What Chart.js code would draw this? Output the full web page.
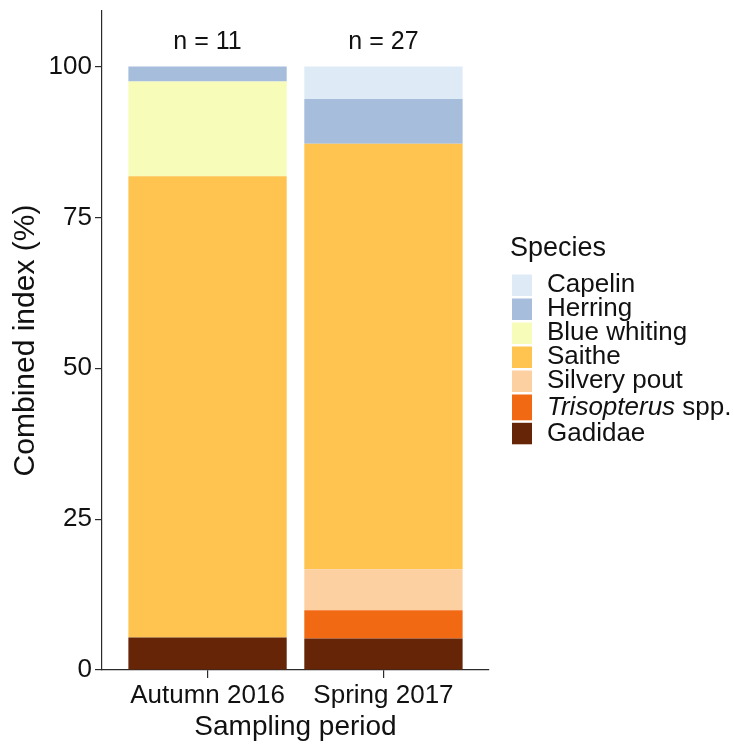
<!DOCTYPE html>
<html>
<head>
<meta charset="utf-8">
<script src="https://cdn.jsdelivr.net/npm/chart.js@4/dist/chart.umd.min.js"></script>
<style>
  html, body { margin: 0; padding: 0; background: #ffffff; }
  #wrap { width: 734px; height: 747px; }
  canvas { display: block; }
</style>
</head>
<body>
<div id="wrap"><canvas id="chart" width="734" height="747"></canvas></div>
<script>
// Sampling periods and number of samples per period
const periods = ['Autumn 2016', 'Spring 2017'];
const sampleSizes = [11, 27];

// Combined index (%) per species and period
const capelin     = [0.0, 5.4];
const herring     = [2.5, 7.4];
const blueWhiting = [15.7, 0.0];
const saithe      = [76.4, 70.5];
const silveryPout = [0.0, 6.8];
const trisopterus = [0.0, 4.7];
const gadidae     = [5.4, 5.2];

// Y axis tick values
const yTicks = [0, 25, 50, 75, 100];

// Legend order (top to bottom)
const speciesNames = ['Capelin', 'Herring', 'Blue whiting', 'Saithe', 'Silvery pout', 'Trisopterus spp.', 'Gadidae'];
const speciesValues = [capelin, herring, blueWhiting, saithe, silveryPout, trisopterus, gadidae];
const speciesColours = ['#deebf7', '#a6bddb', '#f7fcb9', '#fec44f', '#fdd0a2', '#f16913', '#662506'];

const FONT = '"Liberation Sans", Arial, Helvetica, sans-serif';
const INK = '#111111';
const AXIS = '#2b2b2b';

// Stack from the bottom: Gadidae first, Capelin last
const datasets = speciesNames.map((name, i) => ({
  label: name,
  data: speciesValues[i].map((v, j) => ({ x: j + 1, y: v })),
  backgroundColor: speciesColours[i],
  borderWidth: 0,
  barPercentage: 0.9,
  categoryPercentage: 1.0
})).reverse();

// "n = ..." above each bar
const sampleSizeLabels = {
  id: 'sampleSizeLabels',
  afterDatasetsDraw(chart) {
    const { ctx, scales: { x, y } } = chart;
    ctx.save();
    ctx.font = '25px ' + FONT;
    ctx.fillStyle = INK;
    ctx.textAlign = 'center';
    ctx.textBaseline = 'middle';
    sampleSizes.forEach((n, i) => {
      ctx.fillText('n = ' + n, x.getPixelForValue(i + 1), y.getPixelForValue(104));
    });
    ctx.restore();
  }
};

// Species legend with italic genus name
const speciesLegend = {
  id: 'speciesLegend',
  afterDraw(chart) {
    const { ctx } = chart;
    ctx.save();
    ctx.fillStyle = INK;
    ctx.textAlign = 'left';
    ctx.textBaseline = 'alphabetic';
    ctx.font = '27px ' + FONT;
    ctx.fillText('Species', 510, 256);

    const rowHeights = [24, 24, 24, 24, 24, 28.3, 24];
    let top = 273.5;
    speciesNames.forEach((name, i) => {
      const h = rowHeights[i];
      const keyH = h - 2.5;
      ctx.fillStyle = speciesColours[i];
      ctx.fillRect(512, top + 1, 20, keyH);
      const cy = top + 1 + keyH / 2;
      ctx.fillStyle = INK;
      ctx.textBaseline = 'middle';
      if (name === 'Trisopterus spp.') {
        ctx.font = 'italic 26px ' + FONT;
        ctx.fillText('Trisopterus', 547, cy);
        const w = ctx.measureText('Trisopterus').width;
        ctx.font = '26px ' + FONT;
        ctx.fillText(' spp.', 547 + w, cy);
      } else {
        ctx.font = '26px ' + FONT;
        ctx.fillText(name, 547, cy);
      }
      top += h;
    });
    ctx.restore();
  }
};

function noEdgePadding(scale) {
  scale.paddingTop = 0;
  scale.paddingBottom = 0;
  scale.paddingLeft = 0;
  scale.paddingRight = 0;
}

new Chart(document.getElementById('chart'), {
  type: 'bar',
  data: { datasets },
  plugins: [sampleSizeLabels, speciesLegend],
  options: {
    responsive: false,
    devicePixelRatio: 1,
    animation: false,
    layout: { padding: { left: 0, top: 11, right: 245, bottom: 0 } },
    plugins: {
      legend: { display: false },
      tooltip: { enabled: false }
    },
    scales: {
      x: {
        type: 'linear',
        stacked: true,
        offset: false,
        min: 0.4,
        max: 2.6,
        afterFit(scale) { scale.height = 77; noEdgePadding(scale); },
        afterBuildTicks(scale) { scale.ticks = periods.map((p, i) => ({ value: i + 1 })); },
        ticks: {
          autoSkip: false,
          maxRotation: 0,
          padding: 2,
          color: INK,
          font: { family: FONT, size: 26 },
          callback: (v) => periods[v - 1]
        },
        grid: { display: true, offset: false, drawOnChartArea: false, drawTicks: true, tickLength: 8, color: AXIS, lineWidth: 1.2 },
        border: { display: true, color: AXIS, width: 1.2 },
        title: {
          display: true,
          text: 'Sampling period',
          color: INK,
          font: { family: FONT, size: 28 },
          padding: { top: 0, bottom: 3 }
        }
      },
      y: {
        stacked: true,
        min: 0,
        max: 109.2,
        afterFit(scale) { scale.width = 102; noEdgePadding(scale); },
        afterBuildTicks(scale) { scale.ticks = yTicks.map(v => ({ value: v })); },
        ticks: {
          padding: 3,
          color: INK,
          font: { family: FONT, size: 26 }
        },
        grid: { display: true, drawOnChartArea: false, drawTicks: true, tickLength: 7, color: AXIS, lineWidth: 1.2 },
        border: { display: true, color: AXIS, width: 1.2 },
        title: {
          display: true,
          text: 'Combined index (%)',
          color: INK,
          font: { family: FONT, size: 30 },
          padding: { top: 8, bottom: 0 }
        }
      }
    }
  }
});
</script>
</body>
</html>
